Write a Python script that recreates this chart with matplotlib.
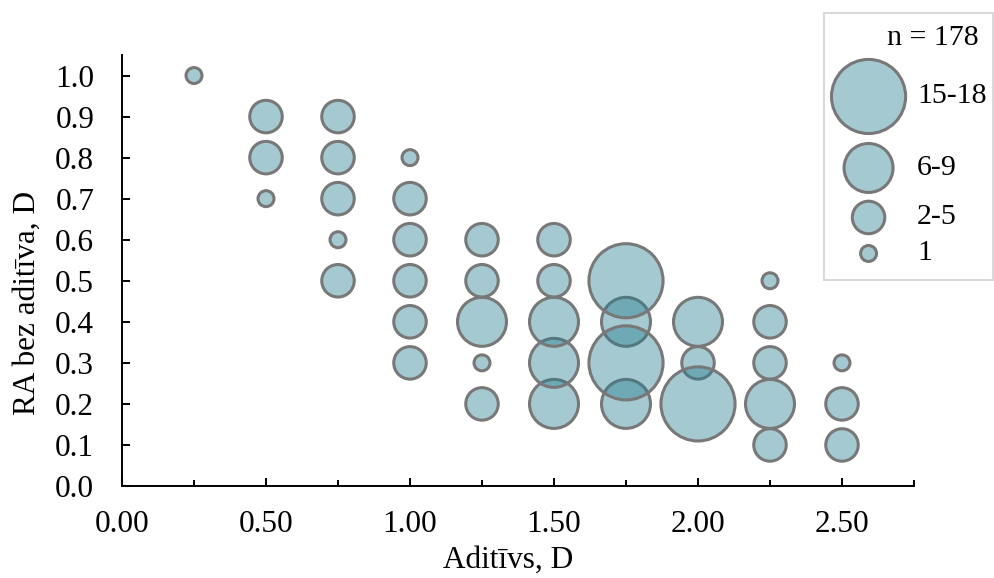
import numpy as np
import matplotlib
matplotlib.use("Agg")
import matplotlib.pyplot as plt
from matplotlib.patches import Circle
from matplotlib.offsetbox import (DrawingArea, TextArea, HPacker, VPacker,
                                  AnchoredOffsetbox)

# ---------------- data ----------------
additive = [0.25,
            0.50, 0.50, 0.50,
            0.75, 0.75, 0.75, 0.75, 0.75,
            1.00, 1.00, 1.00, 1.00, 1.00, 1.00,
            1.25, 1.25, 1.25, 1.25, 1.25,
            1.50, 1.50, 1.50, 1.50, 1.50,
            1.75, 1.75, 1.75, 1.75,
            2.00, 2.00, 2.00,
            2.25, 2.25, 2.25, 2.25, 2.25,
            2.50, 2.50, 2.50]
ra_without = [1.0,
              0.9, 0.8, 0.7,
              0.9, 0.8, 0.7, 0.6, 0.5,
              0.8, 0.7, 0.6, 0.5, 0.4, 0.3,
              0.6, 0.5, 0.4, 0.3, 0.2,
              0.6, 0.5, 0.4, 0.3, 0.2,
              0.5, 0.4, 0.3, 0.2,
              0.4, 0.3, 0.2,
              0.5, 0.4, 0.3, 0.2, 0.1,
              0.3, 0.2, 0.1]
count_class = ['1',
               '2-5', '2-5', '1',
               '2-5', '2-5', '2-5', '1', '2-5',
               '1', '2-5', '2-5', '2-5', '2-5', '2-5',
               '2-5', '2-5', '6-9', '1', '2-5',
               '2-5', '2-5', '6-9', '6-9', '6-9',
               '15-18', '6-9', '15-18', '6-9',
               '6-9', '2-5', '15-18',
               '1', '2-5', '2-5', '6-9', '2-5',
               '1', '2-5', '2-5']
class_labels = ['15-18', '6-9', '2-5', '1']
class_values = {'1': 1.0, '2-5': 3.5, '6-9': 7.5, '15-18': 16.5}
n_total = 178
x_ticks = [0.00, 0.50, 1.00, 1.50, 2.00, 2.50]
y_ticks = [0.0, 0.1, 0.2, 0.3, 0.4, 0.5, 0.6, 0.7, 0.8, 0.9, 1.0]
x_label = "Aditīvs, D"
y_label = "RA bez aditīva, D"

# ---------------- style ----------------
FONT = "Liberation Serif"
FS = 22.5
LFS = 21.5
plt.rcParams['font.family'] = [FONT, 'DejaVu Serif']
FACE = (30/255, 122/255, 142/255, 0.40)
EDGE = (0.47, 0.47, 0.47, 1.0)
LW = 2.2
PT_PER_SQRT = 13.68   # outer diameter (pt) per sqrt(value)


def marker_diam(v):
    return PT_PER_SQRT * np.sqrt(v) - LW


fig = plt.figure(figsize=(9.94, 5.78), dpi=100)
L, R, B, T = 122/994, 914/994, 1 - 486/578, 1 - 55/578
ax = fig.add_axes([L, B, R - L, T - B])

x = np.array(additive)
y = np.array(ra_without)
vals = np.array([class_values[c] for c in count_class])
order = np.lexsort((y, vals))
sizes = marker_diam(vals[order]) ** 2
ax.scatter(x[order], y[order], s=sizes, facecolors=[FACE] * len(order),
           edgecolors=[EDGE] * len(order), linewidths=LW, clip_on=False, zorder=3)

ax.set_xlim(0, 2.75)
ax.set_ylim(0, 1.05)
ax.set_xticks(x_ticks)
ax.set_xticklabels([f"{t:.2f}" for t in x_ticks])
ax.set_xticks(np.arange(0.25, 2.76, 0.5), minor=True)
ax.set_yticks(y_ticks)
ax.set_yticklabels([f"{t:.1f}" for t in y_ticks])
for s in ['top', 'right']:
    ax.spines[s].set_visible(False)
for s in ['left', 'bottom']:
    ax.spines[s].set_linewidth(1.4)
    ax.spines[s].set_color('black')
ax.tick_params(axis='x', which='major', direction='in', length=6, width=1.4,
               pad=17, labelsize=FS)
ax.tick_params(axis='x', which='minor', direction='in', length=4.5, width=1.4)
ax.tick_params(axis='y', which='major', direction='in', length=5.5, width=1.4,
               pad=20, labelsize=FS)
ax.set_xlabel(x_label, fontsize=FS)
ax.set_ylabel(y_label, fontsize=FS)
ax.xaxis.set_label_coords((508 - 122) / (914 - 122), -(546 - 486) / (486 - 55),
                          transform=ax.transAxes)
ax.xaxis.label.set_va('top')
ax.yaxis.set_label_coords(-(122 - 27) / (914 - 122), (486 - 303) / (486 - 55))
ax.yaxis.label.set_va('center')

# ---------------- legend ----------------
px = 0.72  # points per pixel at dpi 100
row_heights_px = {'15-18': 87, '6-9': 56, '2-5': 43, '1': 29}
col_w = PT_PER_SQRT * np.sqrt(class_values['15-18'])
rows = []
for lab in class_labels:
    h = row_heights_px[lab] * px
    da = DrawingArea(col_w, h, 0, 0)
    r = marker_diam(class_values[lab]) / 2
    da.add_artist(Circle((col_w / 2, h / 2), r, facecolor=FACE, edgecolor=EDGE,
                         linewidth=LW))
    ta = TextArea(lab, textprops=dict(fontsize=LFS, family=FONT))
    rows.append(HPacker(children=[da, ta], align='center', pad=0, sep=10 * px))
rows_box = VPacker(children=rows, align='left', pad=0, sep=0)
title = TextArea(f"n = {n_total}", textprops=dict(fontsize=LFS, family=FONT))
title_box = HPacker(children=[title, DrawingArea(8 * px, 1, 0, 0)],
                    align='center', pad=0, sep=0)
leg = VPacker(children=[DrawingArea(1, 4 * px, 0, 0), title_box, rows_box,
                        DrawingArea(1, 4 * px, 0, 0)],
              align='right', pad=0, sep=2 * px)
anch = AnchoredOffsetbox(loc='upper left', child=leg, pad=0.2, borderpad=0,
                         frameon=True, prop=dict(size=LFS),
                         bbox_to_anchor=(824 / 994, 1 - 13 / 578),
                         bbox_transform=fig.transFigure)
anch.patch.set_edgecolor('#d9d9d9')
anch.patch.set_linewidth(1.5)
anch.patch.set_boxstyle('square', pad=0)
fig.add_artist(anch)

fig.savefig('out.png', dpi=100)
